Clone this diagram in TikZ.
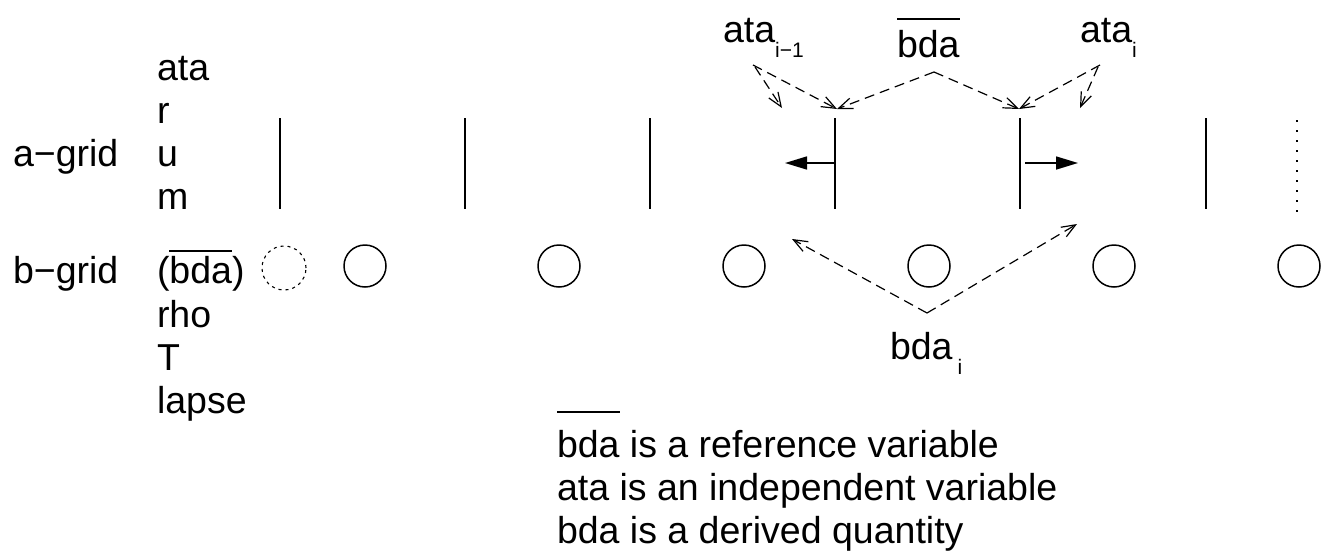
\documentclass[tikz,border=0pt]{standalone}
\usepackage{fontspec}
\setmainfont{Liberation Sans}
\usetikzlibrary{arrows.meta}

% text with a bar drawn a given height above its baseline
\newcommand\barover[2]{\leavevmode\setbox0\hbox{#2}\rlap{\rule[#1]{\wd0}{1.8pt}}\box0}
% lowered small index
\newcommand\idx[1]{\raisebox{-15pt}{\fontsize{21}{24}\selectfont #1}}

\tikzset{
  lbl/.style={anchor=base west, inner sep=0pt, outer sep=0pt, font=\fontsize{37.5}{43}\selectfont},
  gridline/.style={line width=1.6pt},
  cell/.style={draw, circle, line width=1.5pt, minimum size=42pt, inner sep=0pt},
  ghostcell/.style={cell, dash pattern=on 3pt off 4pt, line width=1.1pt, minimum size=44pt},
  dasharrow/.style={line width=1.2pt, dash pattern=on 10pt off 6pt,
    -{Straight Barb[length=14pt,width=11pt,line width=1.2pt]}},
  flux/.style={line width=1.6pt, -{Triangle[length=22pt,width=13pt]}}
}

\begin{document}
\begin{tikzpicture}[x=1pt, y=-1pt]
  \useasboundingbox (0,0) rectangle (1330,552);

  % row labels and variable lists
  \node[lbl] (agrid) at (13,166) {a−grid};
  \node[lbl] (va1) at (157,80)  {ata};
  \node[lbl] (va2) at (157,123) {r};
  \node[lbl] (va3) at (157,166) {u};
  \node[lbl] (va4) at (157,209) {m};

  \node[lbl] (bgrid) at (13,283) {b−grid};
  \node[lbl] (vb1) at (157,283) {(\barover{31pt}{bda})};
  \node[lbl] (vb2) at (157,327) {rho};
  \node[lbl] (vb3) at (157,370) {T};
  \node[lbl] (vb4) at (157,413) {lapse};

  % a-grid interfaces
  \foreach \x/\n in {280/1,465/2,650/3,835/4,1020/5,1206/6}{
    \coordinate (top\n) at (\x,118);
    \coordinate (bot\n) at (\x,209);
    \draw[gridline] (top\n) -- (bot\n);
  }
  \coordinate (top7) at (1297,120);
  \coordinate (bot7) at (1297,213);
  \draw[line width=1.6pt, dash pattern=on 2pt off 8pt] (top7) -- (bot7);

  % b-grid cells
  \node[ghostcell] (c0) at (284,268) {};
  \foreach \x/\n in {365/1,559/2,744/3,929/4,1114/5,1299/6}{
    \node[cell] (c\n) at (\x,266) {};
  }

  % flux arrows at the interfaces
  \coordinate (fl0) at (835,163);
  \coordinate (fl) at (785,163);
  \coordinate (fr0) at (1025,163);
  \coordinate (fr) at (1078,163);
  \draw[flux] (fl0) -- (fl);
  \draw[flux] (fr0) -- (fr);

  % annotations above
  \node[lbl] (ataim) at (723,42) {ata\idx{i−1}};
  \node[lbl] (bdabar) at (897,57) {\barover{37pt}{bda}};
  \node[lbl] (atai) at (1080,42) {ata\idx{i}};

  \coordinate (pbar) at (934,72);
  \coordinate (pim) at (753,65);
  \coordinate (pim2) at (755,67);
  \coordinate (pi) at (1100,65);
  \coordinate (pi2) at (1098,67);
  \coordinate (tipL) at (837,109);
  \coordinate (tipR) at (1019,109);
  \coordinate (tipLo) at (782,108);
  \coordinate (tipRo) at (1080,108);

  \draw[dasharrow] (pbar) -- (tipL);
  \draw[dasharrow] (pbar) -- (tipR);
  \draw[dasharrow] (pim) -- (tipL);
  \draw[dasharrow] (pim2) -- (tipLo);
  \draw[dasharrow] (pi) -- (tipR);
  \draw[dasharrow] (pi2) -- (tipRo);

  % annotation below
  \node[lbl] (bdai) at (890,359) {bda\hspace{5pt}\idx{i}};
  \coordinate (pbi) at (927,313);
  \coordinate (tipBL) at (792,239);
  \coordinate (tipBR) at (1077,224);
  \draw[dasharrow] (pbi) -- (tipBL);
  \draw[dasharrow] (pbi) -- (tipBR);

  % legend
  \node[lbl] (leg1) at (557,457) {\rlap{\barover{44pt}{\phantom{bda}}}bda is a reference variable};
  \node[lbl] (leg2) at (557,500) {ata is an independent variable};
  \node[lbl] (leg3) at (557,543) {bda is a derived quantity};
\end{tikzpicture}
\end{document}
